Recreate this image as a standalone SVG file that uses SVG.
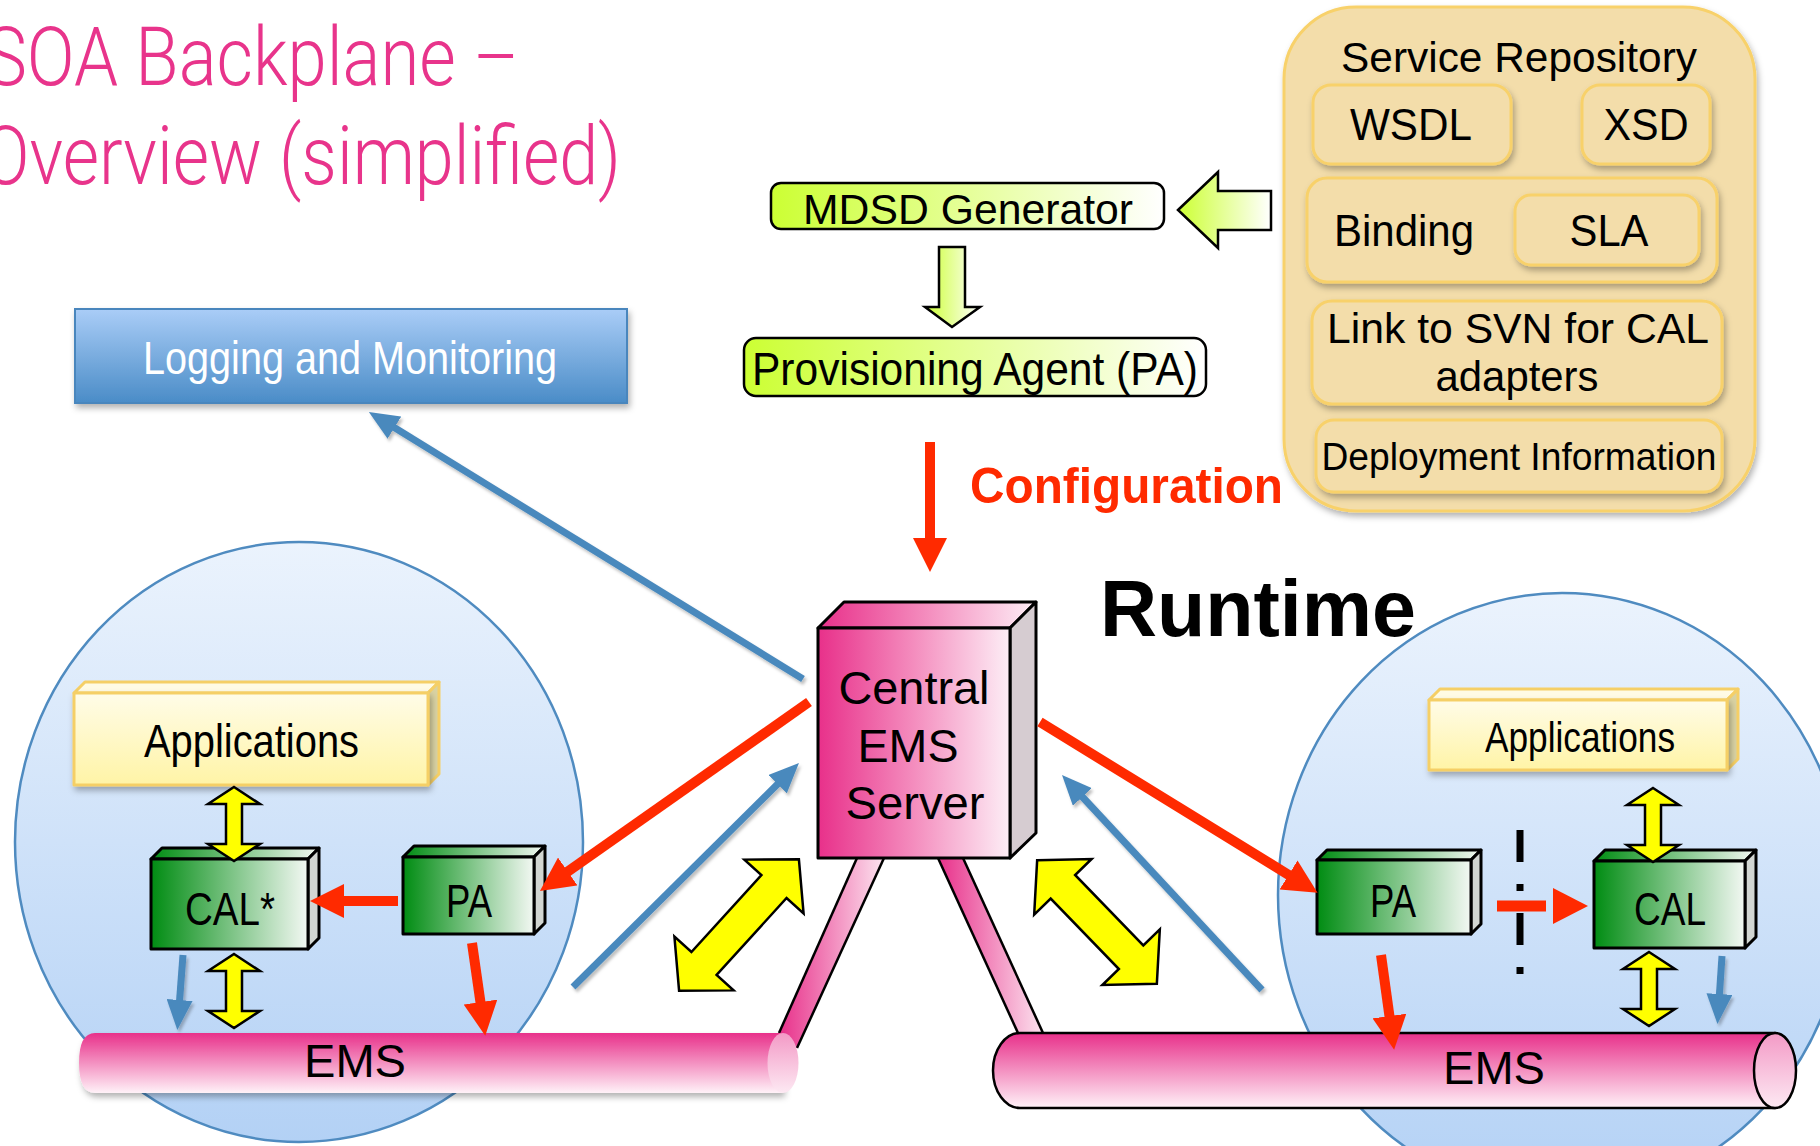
<svg xmlns="http://www.w3.org/2000/svg" width="1820" height="1146" viewBox="0 0 1820 1146">
  <defs>
    <style>
      .sans { font-family: "Liberation Sans", Arial, "Noto Sans", sans-serif; fill: #000; }
      .title { font-family: Roboto, "Liberation Sans", sans-serif; font-weight: 300; fill: #E8348B; font-size: 82px; }
      .repo { fill: #F3DDAA; stroke: #F8D16A; stroke-width: 3; }
      .gbox { stroke: #000; stroke-width: 3; stroke-linejoin: round; }
      .abox { stroke: #F5CF66; stroke-width: 3; stroke-linejoin: round; }
      .red { stroke: #FF2A00; stroke-width: 10; fill: none; }
      .blue { stroke: #4A89BD; stroke-width: 7; fill: none; }
      .yel { fill: #FFFF00; stroke: #000; stroke-width: 2.5; stroke-linejoin: miter; }
      .lime { stroke: #000; stroke-width: 2.5; stroke-linejoin: miter; }
    </style>
    <linearGradient id="gLime" x1="0" y1="0" x2="1" y2="0">
      <stop offset="0" stop-color="#CCFF33"/>
      <stop offset="1" stop-color="#FFFFFF"/>
    </linearGradient>
    <linearGradient id="gPinkH" x1="0" y1="0" x2="1" y2="0">
      <stop offset="0" stop-color="#E8308A"/>
      <stop offset="0.5" stop-color="#F48DBE"/>
      <stop offset="1" stop-color="#FDEEF6"/>
    </linearGradient>
    <linearGradient id="gPinkV" x1="0" y1="0" x2="0" y2="1">
      <stop offset="0" stop-color="#E8308A"/>
      <stop offset="1" stop-color="#FFF2F8"/>
    </linearGradient>
    <linearGradient id="gCap" x1="0" y1="0" x2="0" y2="1">
      <stop offset="0" stop-color="#F39AC6"/>
      <stop offset="1" stop-color="#FDE9F3"/>
    </linearGradient>
    <linearGradient id="gTube" x1="0" y1="0" x2="1" y2="0">
      <stop offset="0" stop-color="#E8308A"/>
      <stop offset="1" stop-color="#FCE3EF"/>
    </linearGradient>
    <linearGradient id="gGreen" x1="0" y1="0" x2="1" y2="0">
      <stop offset="0" stop-color="#008C12"/>
      <stop offset="1" stop-color="#F3F8F3"/>
    </linearGradient>
    <linearGradient id="gApp" x1="0" y1="0" x2="0" y2="1">
      <stop offset="0" stop-color="#FFFCE8"/>
      <stop offset="1" stop-color="#FFF4A6"/>
    </linearGradient>
    <linearGradient id="gLog" x1="0" y1="0" x2="0" y2="1">
      <stop offset="0" stop-color="#AACDF7"/>
      <stop offset="1" stop-color="#4A8CC7"/>
    </linearGradient>
    <linearGradient id="gCircle" x1="0" y1="0" x2="0" y2="1">
      <stop offset="0" stop-color="#EBF3FD"/>
      <stop offset="1" stop-color="#B3D1F5"/>
    </linearGradient>
    <filter id="shadow" x="-10%" y="-10%" width="125%" height="135%">
      <feDropShadow dx="2" dy="4" stdDeviation="3" flood-color="#000" flood-opacity="0.3"/>
    </filter>
    <filter id="lineShadow" x="-10%" y="-10%" width="130%" height="130%">
      <feDropShadow dx="2" dy="3" stdDeviation="1.5" flood-color="#000" flood-opacity="0.25"/>
    </filter>
    <marker id="redHead" markerUnits="userSpaceOnUse" viewBox="0 0 34 34" markerWidth="34" markerHeight="34" refX="4" refY="17" orient="auto">
      <path d="M0,0 L34,17 L0,34 Z" fill="#FF2A00"/>
    </marker>
    <marker id="blueHead" markerUnits="userSpaceOnUse" viewBox="0 0 30 26" markerWidth="30" markerHeight="26" refX="4" refY="13" orient="auto">
      <path d="M0,0 L30,13 L0,26 Z" fill="#4A89BD"/>
    </marker>
  </defs>

  <rect width="1820" height="1146" fill="#FFFFFF"/>

  <!-- Title (runs off the left edge of the slide) -->
  <g id="title">
    <text class="title" x="-15" y="85" textLength="534" lengthAdjust="spacingAndGlyphs">SOA Backplane –</text>
    <text class="title" x="-18" y="184" textLength="639" lengthAdjust="spacingAndGlyphs">Overview (simplified)</text>
  </g>

  <!-- Host zones -->
  <g id="zone-left">
    <ellipse cx="299" cy="842" rx="284" ry="300" fill="url(#gCircle)" stroke="#4F8BC0" stroke-width="2.5"/>
  </g>
  <g id="zone-right">
    <ellipse cx="1562" cy="895" rx="284" ry="302" fill="url(#gCircle)" stroke="#4F8BC0" stroke-width="2.5"/>
  </g>

  <!-- Logging and Monitoring -->
  <g id="logging">
    <rect x="75" y="309" width="552" height="94" fill="url(#gLog)" stroke="#4A86BD" stroke-width="2" filter="url(#shadow)"/>
    <text class="sans" x="143" y="374" font-size="46" style="fill:#FFFFFF" textLength="414" lengthAdjust="spacingAndGlyphs">Logging and Monitoring</text>
  </g>

  <!-- Service Repository -->
  <g id="service-repository">
    <rect class="repo" x="1284" y="7" width="471" height="504" rx="72" filter="url(#shadow)"/>
    <text class="sans" x="1519" y="72" font-size="43" text-anchor="middle" textLength="356" lengthAdjust="spacingAndGlyphs">Service Repository</text>
    <g id="wsdl">
      <rect class="repo" x="1313" y="85" width="198" height="79" rx="18" filter="url(#shadow)"/>
      <text class="sans" x="1411" y="140" font-size="44" text-anchor="middle" textLength="122" lengthAdjust="spacingAndGlyphs">WSDL</text>
    </g>
    <g id="xsd">
      <rect class="repo" x="1582" y="85" width="128" height="79" rx="18" filter="url(#shadow)"/>
      <text class="sans" x="1646" y="140" font-size="44" text-anchor="middle" textLength="85" lengthAdjust="spacingAndGlyphs">XSD</text>
    </g>
    <g id="binding">
      <rect class="repo" x="1307" y="178" width="410" height="104" rx="20" filter="url(#shadow)"/>
      <text class="sans" x="1334" y="246" font-size="44" textLength="140" lengthAdjust="spacingAndGlyphs">Binding</text>
    </g>
    <g id="sla">
      <rect class="repo" x="1515" y="195" width="184" height="70" rx="16" filter="url(#shadow)"/>
      <text class="sans" x="1609" y="246" font-size="44" text-anchor="middle" textLength="79" lengthAdjust="spacingAndGlyphs">SLA</text>
    </g>
    <g id="svn-link">
      <rect class="repo" x="1312" y="301" width="410" height="103" rx="20" filter="url(#shadow)"/>
      <text class="sans" x="1518" y="343" font-size="43" text-anchor="middle" textLength="382" lengthAdjust="spacingAndGlyphs">Link to SVN for CAL</text>
      <text class="sans" x="1517" y="391" font-size="43" text-anchor="middle" textLength="163" lengthAdjust="spacingAndGlyphs">adapters</text>
    </g>
    <g id="deployment">
      <rect class="repo" x="1316" y="420" width="406" height="72" rx="18" filter="url(#shadow)"/>
      <text class="sans" x="1519" y="470" font-size="39" text-anchor="middle" textLength="395" lengthAdjust="spacingAndGlyphs">Deployment Information</text>
    </g>
  </g>

  <!-- Generation chain -->
  <g id="mdsd-generator">
    <rect class="lime" x="771" y="183" width="393" height="46" rx="10" fill="url(#gLime)"/>
    <text class="sans" x="968" y="224" font-size="43" text-anchor="middle" textLength="330" lengthAdjust="spacingAndGlyphs">MDSD Generator</text>
  </g>
  <g id="provisioning-agent">
    <rect class="lime" x="744" y="338" width="462" height="58" rx="12" fill="url(#gLime)"/>
    <text class="sans" x="975" y="385" font-size="47" text-anchor="middle" textLength="446" lengthAdjust="spacingAndGlyphs">Provisioning Agent (PA)</text>
  </g>

  <!-- Pink bus tubes from the central server -->
  <g id="bus-links">
    <polygon points="857,858 884,858 797,1048 779,1033" fill="url(#gTube)"/>
    <line x1="857" y1="858" x2="779" y2="1033" stroke="#000" stroke-width="2.5"/>
    <line x1="884" y1="858" x2="797" y2="1048" stroke="#000" stroke-width="2.5"/>
    <polygon points="938,858 963,858 1043,1033 1018,1033" fill="url(#gTube)"/>
    <line x1="938" y1="858" x2="1018" y2="1033" stroke="#000" stroke-width="2.5"/>
    <line x1="963" y1="858" x2="1043" y2="1033" stroke="#000" stroke-width="2.5"/>
  </g>

  <!-- EMS buses -->
  <g id="ems-left">
    <path d="M95,1033 L783,1033 L783,1093 L95,1093 Q79,1093 79,1063 Q79,1033 95,1033 Z" fill="url(#gPinkV)" filter="url(#shadow)"/>
    <ellipse cx="783" cy="1063" rx="15.5" ry="30" fill="url(#gCap)"/>
    <text class="sans" x="355" y="1077" font-size="46" text-anchor="middle" textLength="102" lengthAdjust="spacingAndGlyphs">EMS</text>
  </g>
  <g id="ems-right">
    <path d="M1020,1033 L1775,1033 A21,38 0 0 1 1775,1108 L1020,1108 A27,37.5 0 0 1 1020,1033 Z" fill="url(#gPinkV)" stroke="#000" stroke-width="2.5"/>
    <ellipse cx="1775" cy="1070.5" rx="21" ry="37.5" fill="url(#gCap)" stroke="#000" stroke-width="2.5"/>
    <text class="sans" x="1494" y="1084" font-size="46" text-anchor="middle" textLength="102" lengthAdjust="spacingAndGlyphs">EMS</text>
  </g>

  <!-- Central EMS Server -->
  <g id="central-ems-server">
    <polygon class="gbox" points="818,628 844,602 1036,602 1010,628" fill="url(#gPinkH)"/>
    <polygon class="gbox" points="1010,628 1036,602 1036,833 1010,858" fill="#D6CCD1"/>
    <rect class="gbox" x="818" y="628" width="192" height="230" fill="url(#gPinkH)"/>
    <text class="sans" x="914" y="704" font-size="46" text-anchor="middle" textLength="151" lengthAdjust="spacingAndGlyphs">Central</text>
    <text class="sans" x="908" y="762" font-size="46" text-anchor="middle" textLength="101" lengthAdjust="spacingAndGlyphs">EMS</text>
    <text class="sans" x="915" y="819" font-size="46" text-anchor="middle" textLength="139" lengthAdjust="spacingAndGlyphs">Server</text>
  </g>

  <!-- Labels -->
  <g id="labels">
    <text class="sans" x="970" y="503" font-size="50" font-weight="bold" style="fill:#FF2A00" textLength="313" lengthAdjust="spacingAndGlyphs">Configuration</text>
    <text class="sans" x="1100" y="636" font-size="80" font-weight="bold" textLength="316" lengthAdjust="spacingAndGlyphs">Runtime</text>
  </g>

  <!-- Left host -->
  <g id="apps-left">
    <polygon class="abox" points="74,693 85,682 439,682 428,693" fill="#FFFBE4"/>
    <polygon class="abox" points="428,693 439,682 439,774 428,785" fill="#D9D2A2"/>
    <rect class="abox" x="74" y="693" width="354" height="92" fill="url(#gApp)" filter="url(#shadow)"/>
    <text class="sans" x="144" y="757" font-size="46" textLength="215" lengthAdjust="spacingAndGlyphs">Applications</text>
  </g>
  <g id="cal-left">
    <polygon class="gbox" points="151,859 162,848 319,848 308,859" fill="url(#gGreen)"/>
    <polygon class="gbox" points="308,859 319,848 319,938 308,949" fill="#D2D6D2"/>
    <rect class="gbox" x="151" y="859" width="157" height="90" fill="url(#gGreen)"/>
    <text class="sans" x="185" y="925" font-size="46" textLength="90" lengthAdjust="spacingAndGlyphs">CAL*</text>
  </g>
  <g id="pa-left">
    <polygon class="gbox" points="403,857 414,846 545,846 534,857" fill="url(#gGreen)"/>
    <polygon class="gbox" points="534,857 545,846 545,923 534,934" fill="#D2D6D2"/>
    <rect class="gbox" x="403" y="857" width="131" height="77" fill="url(#gGreen)"/>
    <text class="sans" x="469" y="917" font-size="46" text-anchor="middle" textLength="46" lengthAdjust="spacingAndGlyphs">PA</text>
  </g>

  <!-- Right host -->
  <g id="apps-right">
    <polygon class="abox" points="1429,700 1440,689 1738,689 1727,700" fill="#FFFBE4"/>
    <polygon class="abox" points="1727,700 1738,689 1738,759 1727,770" fill="#D9D2A2"/>
    <rect class="abox" x="1429" y="700" width="298" height="70" fill="url(#gApp)" filter="url(#shadow)"/>
    <text class="sans" x="1485" y="752" font-size="42" textLength="190" lengthAdjust="spacingAndGlyphs">Applications</text>
  </g>
  <g id="pa-right">
    <polygon class="gbox" points="1317,860 1327,850 1481,850 1471,860" fill="url(#gGreen)"/>
    <polygon class="gbox" points="1471,860 1481,850 1481,924 1471,934" fill="#D2D6D2"/>
    <rect class="gbox" x="1317" y="860" width="154" height="74" fill="url(#gGreen)"/>
    <text class="sans" x="1393" y="917" font-size="46" text-anchor="middle" textLength="46" lengthAdjust="spacingAndGlyphs">PA</text>
  </g>
  <g id="cal-right">
    <polygon class="gbox" points="1594,861 1605,850 1756,850 1745,861" fill="url(#gGreen)"/>
    <polygon class="gbox" points="1745,861 1756,850 1756,937 1745,948" fill="#D2D6D2"/>
    <rect class="gbox" x="1594" y="861" width="151" height="87" fill="url(#gGreen)"/>
    <text class="sans" x="1670" y="925" font-size="46" text-anchor="middle" textLength="72" lengthAdjust="spacingAndGlyphs">CAL</text>
  </g>

  <!-- Connectors -->
  <g id="connectors">
    <!-- repository feeds generator, generator produces PA -->
    <polygon class="lime" points="1178,210 1218,172 1218,191 1271,191 1271,230 1218,230 1218,248" fill="url(#gLime)"/>
    <polygon class="lime" points="939,247 965,247 965,307 980,307 952,327 925,307 939,307" fill="url(#gLime)"/>

    <!-- configuration push -->
    <line class="red" x1="930" y1="442" x2="930" y2="542" marker-end="url(#redHead)"/>

    <!-- yellow exchange arrows -->
    <polygon class="yel" points="-89,0 -52,-40 -52,-17 52,-17 52,-40 89,0 52,40 52,17 -52,17 -52,40" transform="translate(739,925) rotate(-47.7)"/>
    <polygon class="yel" points="-86,0 -49,-40 -49,-17 49,-17 49,-40 86,0 49,40 49,17 -49,17 -49,40" transform="translate(1097,922) rotate(45.9)"/>
    <polygon class="yel" points="234,787 260,804 242,804 242,844 260,844 234,861 208,844 226,844 226,804 208,804"/>
    <polygon class="yel" points="234,954 260,971 242,971 242,1011 260,1011 234,1028 208,1011 226,1011 226,971 208,971"/>
    <polygon class="yel" points="1653,788 1679,805 1661,805 1661,845 1679,845 1653,862 1627,845 1645,845 1645,805 1627,805"/>
    <polygon class="yel" points="1649,952 1675,969 1657,969 1657,1009 1675,1009 1649,1026 1623,1009 1641,1009 1641,969 1623,969"/>

    <!-- red provisioning flows -->
    <line class="red" x1="809" y1="702" x2="564.5" y2="873.8" marker-end="url(#redHead)"/>
    <line class="red" x1="398" y1="901" x2="340" y2="901" marker-end="url(#redHead)"/>
    <line class="red" x1="472" y1="943" x2="481" y2="1006" marker-end="url(#redHead)"/>
    <line class="red" x1="1040" y1="722" x2="1292" y2="877" marker-end="url(#redHead)"/>
    <line class="red" x1="1381" y1="955" x2="1390" y2="1020" marker-end="url(#redHead)"/>

    <!-- process boundary between PA and CAL -->
    <line x1="1520" y1="830" x2="1520" y2="985" stroke="#000" stroke-width="7" stroke-dasharray="32,22,7,22"/>
    <line x1="1497" y1="906" x2="1546" y2="906" stroke="#FF2A00" stroke-width="11"/>
    <polygon points="1553,888 1588,906 1553,924" fill="#FF2A00"/>

    <!-- blue monitoring flows -->
    <g filter="url(#lineShadow)">
      <line class="blue" x1="803" y1="679" x2="391" y2="425.6" marker-end="url(#blueHead)"/>
      <line class="blue" x1="573" y1="987" x2="780.5" y2="781.3" marker-end="url(#blueHead)"/>
      <line class="blue" x1="1262" y1="990" x2="1079.7" y2="794" marker-end="url(#blueHead)"/>
      <line class="blue" x1="183" y1="955" x2="179.3" y2="1004" marker-end="url(#blueHead)"/>
      <line class="blue" x1="1722" y1="956" x2="1719.2" y2="998" marker-end="url(#blueHead)"/>
    </g>
  </g>
</svg>
